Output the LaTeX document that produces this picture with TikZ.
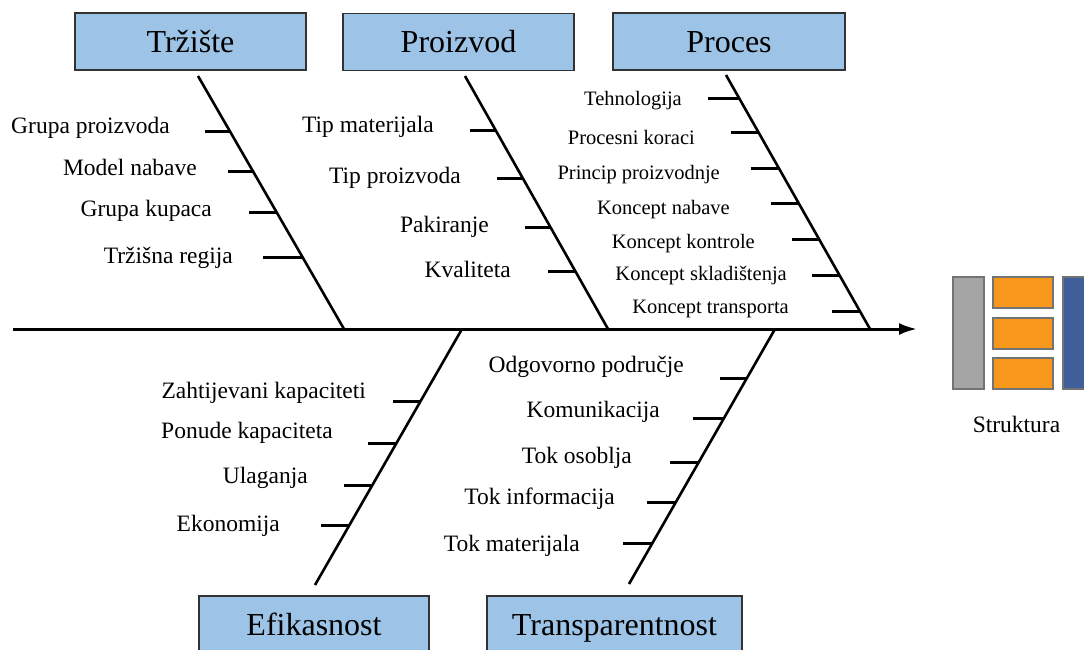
\documentclass[tikz,border=0pt]{standalone}
\usepackage{fontspec}
\setmainfont{Liberation Serif}
\usetikzlibrary{arrows.meta}
\definecolor{boxblue}{HTML}{9DC3E6}
\definecolor{structgray}{HTML}{A5A5A5}
\definecolor{structorange}{HTML}{F7981D}
\definecolor{structblue}{HTML}{3F5F9B}
\tikzset{
	struktura/.pic = {
		\draw[draw=black!55, fill=structgray, line width=1.2pt] (0,0) rectangle (31,112);
		\foreach \t in {0,41,81}
			\draw[draw=black!55, fill=structorange, line width=1.2pt] (40,\t) rectangle (100,\t+31);
		\draw[draw=black!55, fill=structblue, line width=1.2pt] (110,0) rectangle (150,112);
	}
}
\begin{document}
\begin{tikzpicture}[
		x=1pt, y=-1pt,
		>={Latex[length=18pt,width=12pt]},
		headbox/.style={draw=black!80, fill=boxblue, line width=1.2pt,
			minimum width=231pt, minimum height=57pt, inner sep=0pt,
			font=\fontsize{32}{36}\selectfont, text height=21pt, text depth=0pt},
		causetext/.style={anchor=base east, inner sep=0pt, font=\fontsize{23.5}{26}\selectfont},
		proctext/.style={causetext, font=\fontsize{20.5}{23}\selectfont},
		bone/.style={line width=2.6pt},
		twig/.style={line width=3pt},
	]

	% Fix the canvas
	\useasboundingbox (0,0) rectangle (1084,649);

	% Draw the head boxes
	\node[headbox] (market) at (190.5,41.5) {Tržište};
	\node[headbox] (product) at (458.5,42) {Proizvod};
	\node[headbox, minimum width=232pt] (process) at (729,41.5) {Proces};
	\node[headbox, minimum width=230pt] (efficiency) at (314,624.5) {Efikasnost};
	\node[headbox, minimum width=255pt] (transparency) at (614.5,624.5) {Transparentnost};

	% Draw the spine
	\coordinate (tail) at (13,329);
	\coordinate (head) at (917,329);
	\draw[line width=3pt, ->] (tail) -- (head);

	% Draw the bones
	\coordinate (m-top) at (198,76);   \coordinate (m-bot) at (344,329);
	\coordinate (p-top) at (465,76);   \coordinate (p-bot) at (608,329);
	\coordinate (r-top) at (726,75);   \coordinate (r-bot) at (870,329);
	\coordinate (e-top) at (462,329);  \coordinate (e-bot) at (315,585);
	\coordinate (t-top) at (775,329);  \coordinate (t-bot) at (629,584);
	\foreach \b in {m,p,r,e,t}
		\draw[bone] (\b-top) -- (\b-bot);

	% Market causes
	\foreach \y/\l/\x/\base/\txt [count=\i] in {
			131/25/170/133/Grupa proizvoda,
			171/25/197/175/Model nabave,
			212/27/212/216/Grupa kupaca,
			257/39/233/263/Tržišna regija}{
		\draw[twig] (intersection cs: first line={(m-top)--(m-bot)}, second line={(0,\y)--(10,\y)}) -- ++(-\l,0);
		\node[causetext] (m-\i) at (\x,\base) {\txt};
	}

	% Product causes
	\foreach \y/\l/\x/\base/\txt [count=\i] in {
			130/26/434/132/Tip materijala,
			178/26/461/183/Tip proizvoda,
			227/25/489/232/Pakiranje,
			271/27/511/277/Kvaliteta}{
		\draw[twig] (intersection cs: first line={(p-top)--(p-bot)}, second line={(0,\y)--(10,\y)}) -- ++(-\l,0);
		\node[causetext] (p-\i) at (\x,\base) {\txt};
	}

	% Process causes
	\foreach \y/\l/\x/\base/\txt [count=\i] in {
			98/31/682/105/Tehnologija,
			132/27/695/144/Procesni koraci,
			168/28/720/179/Princip proizvodnje,
			203/28/730/214/Koncept nabave,
			239/27/755/248/Koncept kontrole,
			275/27/787/280/Koncept skladištenja,
			311/28/789/313/Koncept transporta}{
		\draw[twig] (intersection cs: first line={(r-top)--(r-bot)}, second line={(0,\y)--(10,\y)}) -- ++(-\l,0);
		\node[proctext] (r-\i) at (\x,\base) {\txt};
	}

	% Efficiency causes
	\foreach \y/\l/\x/\base/\txt [count=\i] in {
			401/28/366/398/Zahtijevani kapaciteti,
			443/29/333/438/Ponude kapaciteta,
			485/28/308/483/Ulaganja,
			525/28/280/531/Ekonomija}{
		\draw[twig] (intersection cs: first line={(e-top)--(e-bot)}, second line={(0,\y)--(10,\y)}) -- ++(-\l,0);
		\node[causetext] (e-\i) at (\x,\base) {\txt};
	}

	% Transparency causes
	\foreach \y/\l/\x/\base/\txt [count=\i] in {
			378/27/684/372/Odgovorno područje,
			418/31/660/417/Komunikacija,
			462/29/632/463/Tok osoblja,
			502/29/615/504/Tok informacija,
			543/30/580/551/Tok materijala}{
		\draw[twig] (intersection cs: first line={(t-top)--(t-bot)}, second line={(0,\y)--(10,\y)}) -- ++(-\l,0);
		\node[causetext] (t-\i) at (\x,\base) {\txt};
	}

	% Draw the structure icon
	\pic at (953,277) {struktura};
	\node[causetext, anchor=base] (struct) at (1016.5,432) {Struktura};

\end{tikzpicture}
\end{document}
